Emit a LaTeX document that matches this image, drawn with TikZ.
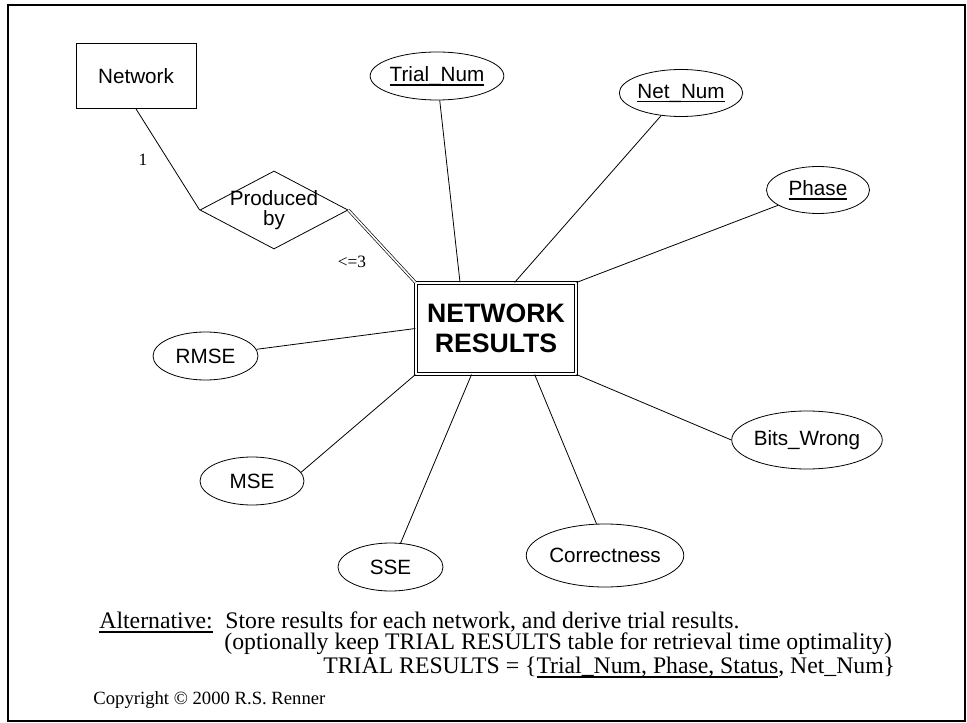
\documentclass[tikz,border=0pt]{standalone}
\usepackage{fontspec}
\setmainfont{Liberation Serif}
\setsansfont{Liberation Sans}
\usetikzlibrary{shapes,positioning}

\newcommand{\keyul}[1]{\setbox0=\hbox{#1}\rlap{\rule[-0.2em]{\wd0}{0.07em}}\box0}
\newcommand{\attrfont}{\fontsize{15.5}{15}\selectfont\sffamily}

\begin{document}
\begin{tikzpicture}[x=0.75pt,y=-0.75pt,line width=0.6pt,
		attr/.style={draw,ellipse,inner sep=0pt,font=\attrfont},
		note/.style={font=\fontsize{17.8}{20}\selectfont,inner sep=0pt,anchor=base west}]
		\useasboundingbox (0,0) rectangle (967,723);
		\draw[line width=1.3pt] (8,5) rectangle (965,721);

		\node[draw,
			minimum width=90pt,
			minimum height=48.75pt,
			font=\attrfont] (network) at (136,76) {Network};

		\node[draw,
			diamond,
			aspect=1.9,
			inner xsep=-5.7pt,
			inner ysep=0pt,
			minimum width=111pt,
			minimum height=58.5pt,
			align=center,
			font=\attrfont] (produced) at (274,210) {Produced\\by};

		\node[draw,
			double,
			double distance=1.5pt,
			minimum width=120.3pt,
			minimum height=68.5pt,
			align=center,
			font=\fontsize{20}{22.5}\selectfont\sffamily\bfseries] (results) at (496,328.5) {NETWORK\\RESULTS};

		% key attributes
		\node[attr, minimum width=97.5pt, minimum height=36pt] (trial) at (437,76) {\keyul{Trial\_Num}};
		\node[attr, minimum width=87pt, minimum height=35.25pt] (netnum) at (681,93) {\keyul{Net\_Num}};
		\node[attr, minimum width=77.25pt, minimum height=35.25pt] (phase) at (818,190) {\keyul{Phase}};

		% other attributes
		\node[attr, minimum width=78.75pt, minimum height=36pt] (rmse) at (205.5,356) {RMSE};
		\node[attr, minimum width=78pt, minimum height=36pt] (mse) at (252,481) {MSE};
		\node[attr, minimum width=78.75pt, minimum height=36pt] (sse) at (390.5,567) {SSE};
		\node[attr, minimum width=103.5pt, minimum height=47.25pt] (correct) at (605,555.5) {Correctness};
		\node[attr, minimum width=90pt, minimum height=43.5pt] (bits) at (807,440) {Bits\_Wrong};

		% cardinalities
		\node[font=\fontsize{13}{15}\selectfont] (card-one) at (143,160) {1};
		\node[font=\fontsize{13}{15}\selectfont] (card-three) at (352,262) {<=3};

		\draw (network.south) edge (produced.west)
		(results.128) edge (trial)
		(results.68) edge (netnum)
		(results.north east) edge (phase)
		(results.west) edge (rmse)
		(results.south west) edge (mse.10)
		(results.242.2) edge (sse)
		(results.310.1) edge (correct.105)
		(results.south east) edge (bits.west);

		\draw[double, double distance=1.2pt, line width=0.5pt] (produced.east) -- (results.north west);

		% note at the bottom
		\node[note] (alt) at (99,628) {\keyul{Alternative:}};
		\node[note] (store) at (225,628) {Store results for each network, and derive trial results.};
		\node[note] (keep) at (224,649) {(optionally keep TRIAL RESULTS table for retrieval time optimality)};
		\node[note] (trial-results) at (323,673) {TRIAL RESULTS = \{\keyul{Trial\_Num, Phase, Status}, Net\_Num\}};
		\node[note, font=\fontsize{14}{16}\selectfont] (copyright) at (93,704) {Copyright © 2000 R.S. Renner};
	\end{tikzpicture}
\end{document}
